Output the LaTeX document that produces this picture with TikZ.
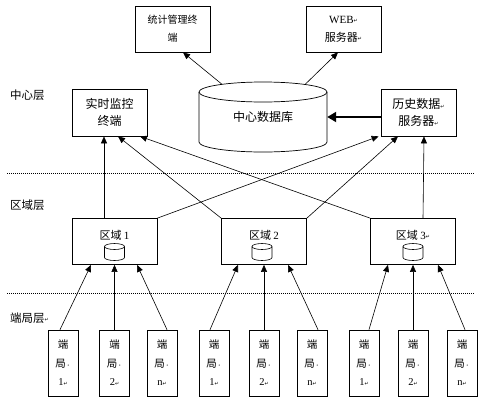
\documentclass[tikz,border=0pt]{standalone}
\usepackage{fontspec}
\setmainfont{Noto Sans CJK SC}
\newfontfamily\latf{Liberation Serif}
\newfontfamily\symf{DejaVu Sans}
\usetikzlibrary{arrows.meta,calc}
\newcommand\retmk{{\symf\fontsize{5}{5}\selectfont\raisebox{0.5pt}{↵}}}
\newcommand\midd{{\fontsize{5}{5}\selectfont·}}
\begin{document}
\begin{tikzpicture}[x=1pt,y=-1pt,
  box/.style={draw,line width=0.7pt,fill=white,inner sep=0pt,align=center},
  arr/.style={line width=0.6pt,-{Triangle[length=7pt,width=6pt]}},
  bigarr/.style={line width=2pt,-{Triangle[length=9pt,width=10pt]}},
  ln/.style={line width=0.6pt},
  dotline/.style={line width=0.8pt,dash pattern=on 1pt off 1pt},
  lay/.style={anchor=west,inner sep=0pt,font=\fontsize{11.5}{12}\selectfont},
  leaf/.style={box,minimum width=30pt,minimum height=66pt,font=\fontsize{10.5}{18.5}\selectfont},
  region/.style={box,minimum width=85pt,minimum height=46pt},
  topbox/.style={box,minimum width=75pt,minimum height=46pt},
  midbox/.style={box,minimum width=75pt,minimum height=47pt,font=\fontsize{12}{17}\selectfont},
  rtitle/.style={inner sep=0pt,font=\fontsize{11}{12}\selectfont},
  smalldb/.pic={
    \draw[line width=0.6pt,fill=white] (-10,-5.5) -- (-10,5.5) arc[start angle=180,end angle=0,x radius=10,y radius=3] -- (10,-5.5);
    \draw[line width=0.6pt] (0,-5.5) ellipse[x radius=10,y radius=3];
  }]
\useasboundingbox (0,0) rectangle (500,405);

% layer separators
\draw[dotline] (7,173) -- (475,173);
\draw[dotline] (7,293) -- (475,293);

% layer labels
\node[lay] (lc) at (10,95) {中心层};
\node[lay] (lr) at (10,205) {区域层};
\node[lay] (lt) at (10,318) {端局层\retmk};

% top boxes
\node[topbox,font=\fontsize{10}{18}\selectfont] (stat) at (172.5,29) {统计管理终\\端};
\node[topbox,font=\fontsize{11}{18}\selectfont] (web) at (343.5,29) {{\latf WEB}\retmk\\服务器\retmk};

% central database
\draw[line width=0.7pt,fill=white] (199,92) -- (199,142) arc[start angle=180,end angle=0,x radius=64,y radius=10] -- (327,92);
\draw[line width=0.7pt] (263,92) ellipse[x radius=64,y radius=10];
\node[minimum width=128pt,minimum height=70pt,inner sep=0pt,font=\fontsize{12}{14}\selectfont] (db) at (263,117) {中心数据库};
\coordinate (dbL) at (222,84.3);
\coordinate (dbR) at (305,84.5);

% middle boxes
\node[midbox] (m1) at (109.5,112.5) {实时监控\\终端};
\node[midbox] (h1) at (418.5,112.5) {历史数据\retmk\\服务器\retmk};

% region boxes
\node[region] (r1) at (114.5,241.5) {};
\node[region] (r2) at (264,241.5) {};
\node[region] (r3) at (413,241.5) {};
\node[rtitle] (t1) at (114.5,235) {区域 {\latf 1}};
\node[rtitle] (t2) at (264,235) {区域 {\latf 2}};
\node[rtitle] (t3) at (413,235) {区域 {\latf 3}\retmk};
\pic at (114.5,252) {smalldb};
\pic at (262,252) {smalldb};
\pic at (413,252) {smalldb};

% leaf boxes
\node[leaf] (l1) at (63,363) {端\\局\midd\\{\latf 1}\retmk};
\node[leaf] (l2) at (114.5,363) {端\\局\midd\\{\latf 2}\retmk};
\node[leaf] (l3) at (162,363) {端\\局\midd\\{\latf n}\retmk};
\node[leaf] (l4) at (214,363) {端\\局\midd\\{\latf 1}\retmk};
\node[leaf] (l5) at (264,363) {端\\局\midd\\{\latf 2}\retmk};
\node[leaf] (l6) at (312,363) {端\\局\midd\\{\latf n}\retmk};
\node[leaf] (l7) at (364,363) {端\\局\midd\\{\latf 1}\retmk};
\node[leaf] (l8) at (413,363) {端\\局\midd\\{\latf 2}\retmk};
\node[leaf] (l9) at (462,363) {端\\局\midd\\{\latf n}\retmk};

% leaf -> region
\draw[arr] ($(l1.north)+(-3,0)$) -- ($(r1.south)+(-23.5,0)$);
\draw[arr] (l2.north) -- (r1.south);
\draw[arr] ($(l3.north)+(5,0)$) -- ($(r1.south)+(22.5,0)$);
\draw[arr] ($(l4.north)+(-4,0)$) -- ($(r2.south)+(-26,0)$);
\draw[arr] (l5.north) -- (r2.south);
\draw[arr] ($(l6.north)+(6,0)$) -- ($(r2.south)+(24,0)$);
\draw[arr] ($(l7.north)+(5,0)$) -- ($(r3.south)+(-25,0)$);
\draw[arr] (l8.north) -- (r3.south);
\draw[arr] ($(l9.north)+(3,0)$) -- ($(r3.south)+(25,0)$);

% region -> center
\draw[arr] ($(r1.north)+(-10.5,0)$) -- ($(m1.south)+(-5.5,0)$);
\draw[arr] (r1.north east) -- ($(h1.south west)+(-2,0)$);
\draw[arr] (r2.north west) -- ($(m1.south)+(8.5,0)$);
\draw[arr] (r2.north east) -- ($(h1.south)+(-20.5,0)$);
\draw[arr] (r3.north west) -- ($(m1.south)+(30.5,0)$);
\draw[arr] ($(r3.north)+(10,0)$) -- ($(h1.south)+(5.5,0)$);

% history -> database
\draw[bigarr] (h1.west |- db) -- (db.east);

% database -> top boxes
\draw[arr] (dbL) -- ($(stat.south)+(10.5,0)$);
\draw[arr] (dbR) -- ($(web.south)+(-5.5,0)$);
\end{tikzpicture}
\end{document}
